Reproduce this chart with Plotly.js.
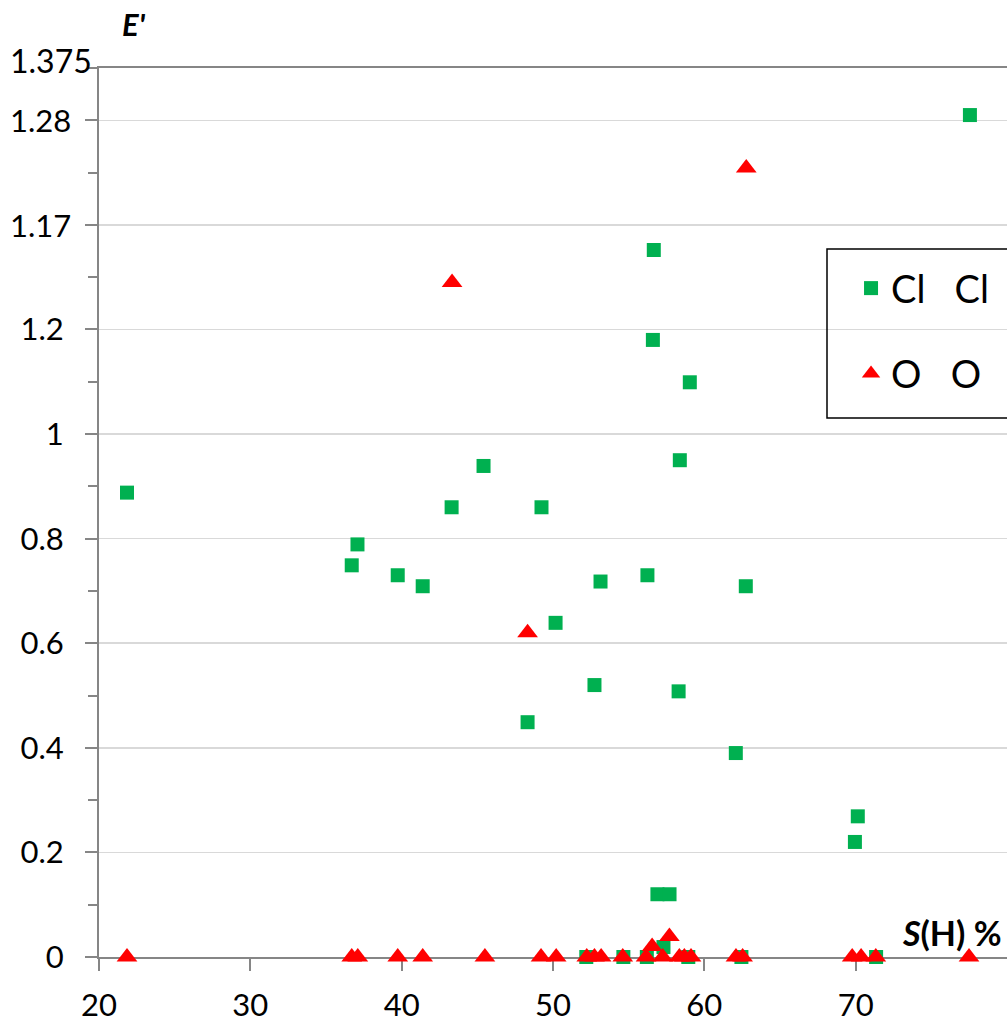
<!DOCTYPE html>
<html>
<head>
<meta charset="utf-8">
<script src="https://cdn.plot.ly/plotly-3.0.1.min.js"></script>
<style>html,body{margin:0;padding:0;background:#fff;}#chart{width:1007px;height:1025px;}</style>
</head>
<body>
<div id="chart"></div>
<script>
// Data
const clX = [21.85, 36.7, 37.08, 39.74, 41.39, 43.3, 45.41, 48.32, 49.24, 50.17, 52.74, 53.14, 56.24, 56.66, 56.6, 58.38, 59.04, 58.3, 62.08, 62.74, 69.95, 70.14, 77.55, 56.9, 57.7, 57.3, 52.2, 54.65, 56.2, 58.94, 62.45, 71.35];
const clY = [0.888, 0.749, 0.789, 0.730, 0.709, 0.860, 0.939, 0.449, 0.860, 0.639, 0.520, 0.718, 0.730, 1.352, 1.180, 0.950, 1.099, 0.508, 0.390, 0.709, 0.220, 0.269, 1.610, 0.12, 0.12, 0.019, 0, 0, 0, 0, 0, 0];
const oX = [21.85, 36.7, 37.1, 39.74, 41.39, 43.33, 45.5, 48.32, 49.21, 50.21, 52.23, 52.74, 53.18, 54.61, 56.15, 56.55, 57.25, 57.69, 58.35, 58.68, 59.12, 62.09, 62.53, 62.77, 69.77, 70.36, 71.33, 77.49];
const oY = [0, 0, 0, 0, 0, 1.290, 0, 0.62, 0, 0, 0, 0, 0, 0, 0, 0.02, 0, 0.039, 0, 0, 0, 0, 0, 1.509, 0, 0, 0, 0];
const seriesNames = ['Cl   Cl', 'O   O'];
const xTickVals = [20, 30, 40, 50, 60, 70];
const yTickVals = [0, 0.2, 0.4, 0.6, 0.8, 1.0, 1.2, 1.4, 1.6];
const yTickText = ['0', '0.2', '0.4', '0.6', '0.8', '1', '1.2', '', ''];
const yExtraVals = [1.4, 1.6];
const yExtraText = ['1.17', '1.28'];
const yTopLabel = '1.375';

const FONT = 'Lato, "Liberation Sans", sans-serif';
const AX = '#868686';

const traces = [
  {x: clX, y: clY, name: seriesNames[0], type: 'scatter', mode: 'markers', legendgroup: 'a',
   cliponaxis: false, marker: {symbol: 'square', size: 14, color: '#00B050'}},
  {x: oX, y: oY, name: seriesNames[1], type: 'scatter', mode: 'markers', legendgroup: 'b',
   cliponaxis: false, marker: {symbol: 'triangle-up', size: 18, color: '#FF0000'}}
];

const annotations = yExtraVals.map((v, i) => ({
  xref: 'paper', yref: 'y', x: -26/908, y: v, xanchor: 'right', yanchor: 'middle',
  text: yExtraText[i], showarrow: false, font: {family: FONT, size: 31, color: '#000'}
}));
annotations.push({xref: 'paper', yref: 'paper', x: -5/908, y: 1.0, xanchor: 'right', yanchor: 'middle',
  yshift: 8, text: yTopLabel, showarrow: false, font: {family: FONT, size: 32, color: '#000'}});
annotations.push({xref: 'paper', yref: 'paper', x: 21/908, y: 1.0, xanchor: 'left', yanchor: 'bottom',
  yshift: 23, text: "<b><i>E'</i></b>", showarrow: false, font: {family: FONT, size: 31, color: '#000'}});
annotations.push({xref: 'paper', yref: 'paper', x: 1.0, y: 0, xanchor: 'right', yanchor: 'bottom',
  xshift: -3, yshift: 2, text: '<b><i>S</i>(H) %</b>', showarrow: false, font: {family: FONT, size: 34, color: '#000'}});

const layout = {
  width: 1007, height: 1025,
  margin: {l: 99, r: 0, t: 68, b: 68, autoexpand: false},
  paper_bgcolor: '#fff', plot_bgcolor: '#fff',
  font: {family: FONT, size: 31, color: '#000'},
  showlegend: true,
  legend: {x: 0.8018, y: 0.7875, xanchor: 'left', yanchor: 'top', bgcolor: 'rgba(0,0,0,0)',
    borderwidth: 0, font: {family: FONT, size: 38, color: '#000'},
    traceorder: 'grouped', tracegroupgap: 33, indentation: 24, itemsizing: 'trace'},
  shapes: [{type: 'rect', xref: 'paper', yref: 'paper', x0: (827-99)/908, x1: 1.06,
    y0: (957-418)/889, y1: (957-249)/889, line: {color: '#000', width: 1.5}, fillcolor: 'rgba(0,0,0,0)'}],
  xaxis: {range: [20, 80], tickmode: 'array', tickvals: xTickVals, ticks: 'outside', ticklen: 12,
    tickwidth: 2, tickcolor: AX, showline: true, linecolor: AX, linewidth: 2, mirror: true,
    showgrid: false, zeroline: false, layer: 'below traces', ticklabelstandoff: 8,
    tickfont: {family: FONT, size: 31, color: '#000'}},
  yaxis: {range: [0, 1.7], tickmode: 'array', tickvals: yTickVals, ticktext: yTickText,
    ticks: 'outside', ticklen: 12, tickwidth: 2, tickcolor: AX, showline: true, linecolor: AX,
    linewidth: 2, showgrid: true, gridcolor: '#d9d9d9', gridwidth: 1.5, zeroline: false,
    layer: 'below traces', ticklabelstandoff: 15,
    minor: {tickmode: 'linear', tick0: 0, dtick: 0.1, ticks: 'outside', ticklen: 9, tickwidth: 2,
      tickcolor: AX, showgrid: false},
    tickfont: {family: FONT, size: 31, color: '#000'}},
  annotations: annotations
};

Plotly.newPlot('chart', traces, layout, {displayModeBar: false, staticPlot: true});
</script>
</body>
</html>
